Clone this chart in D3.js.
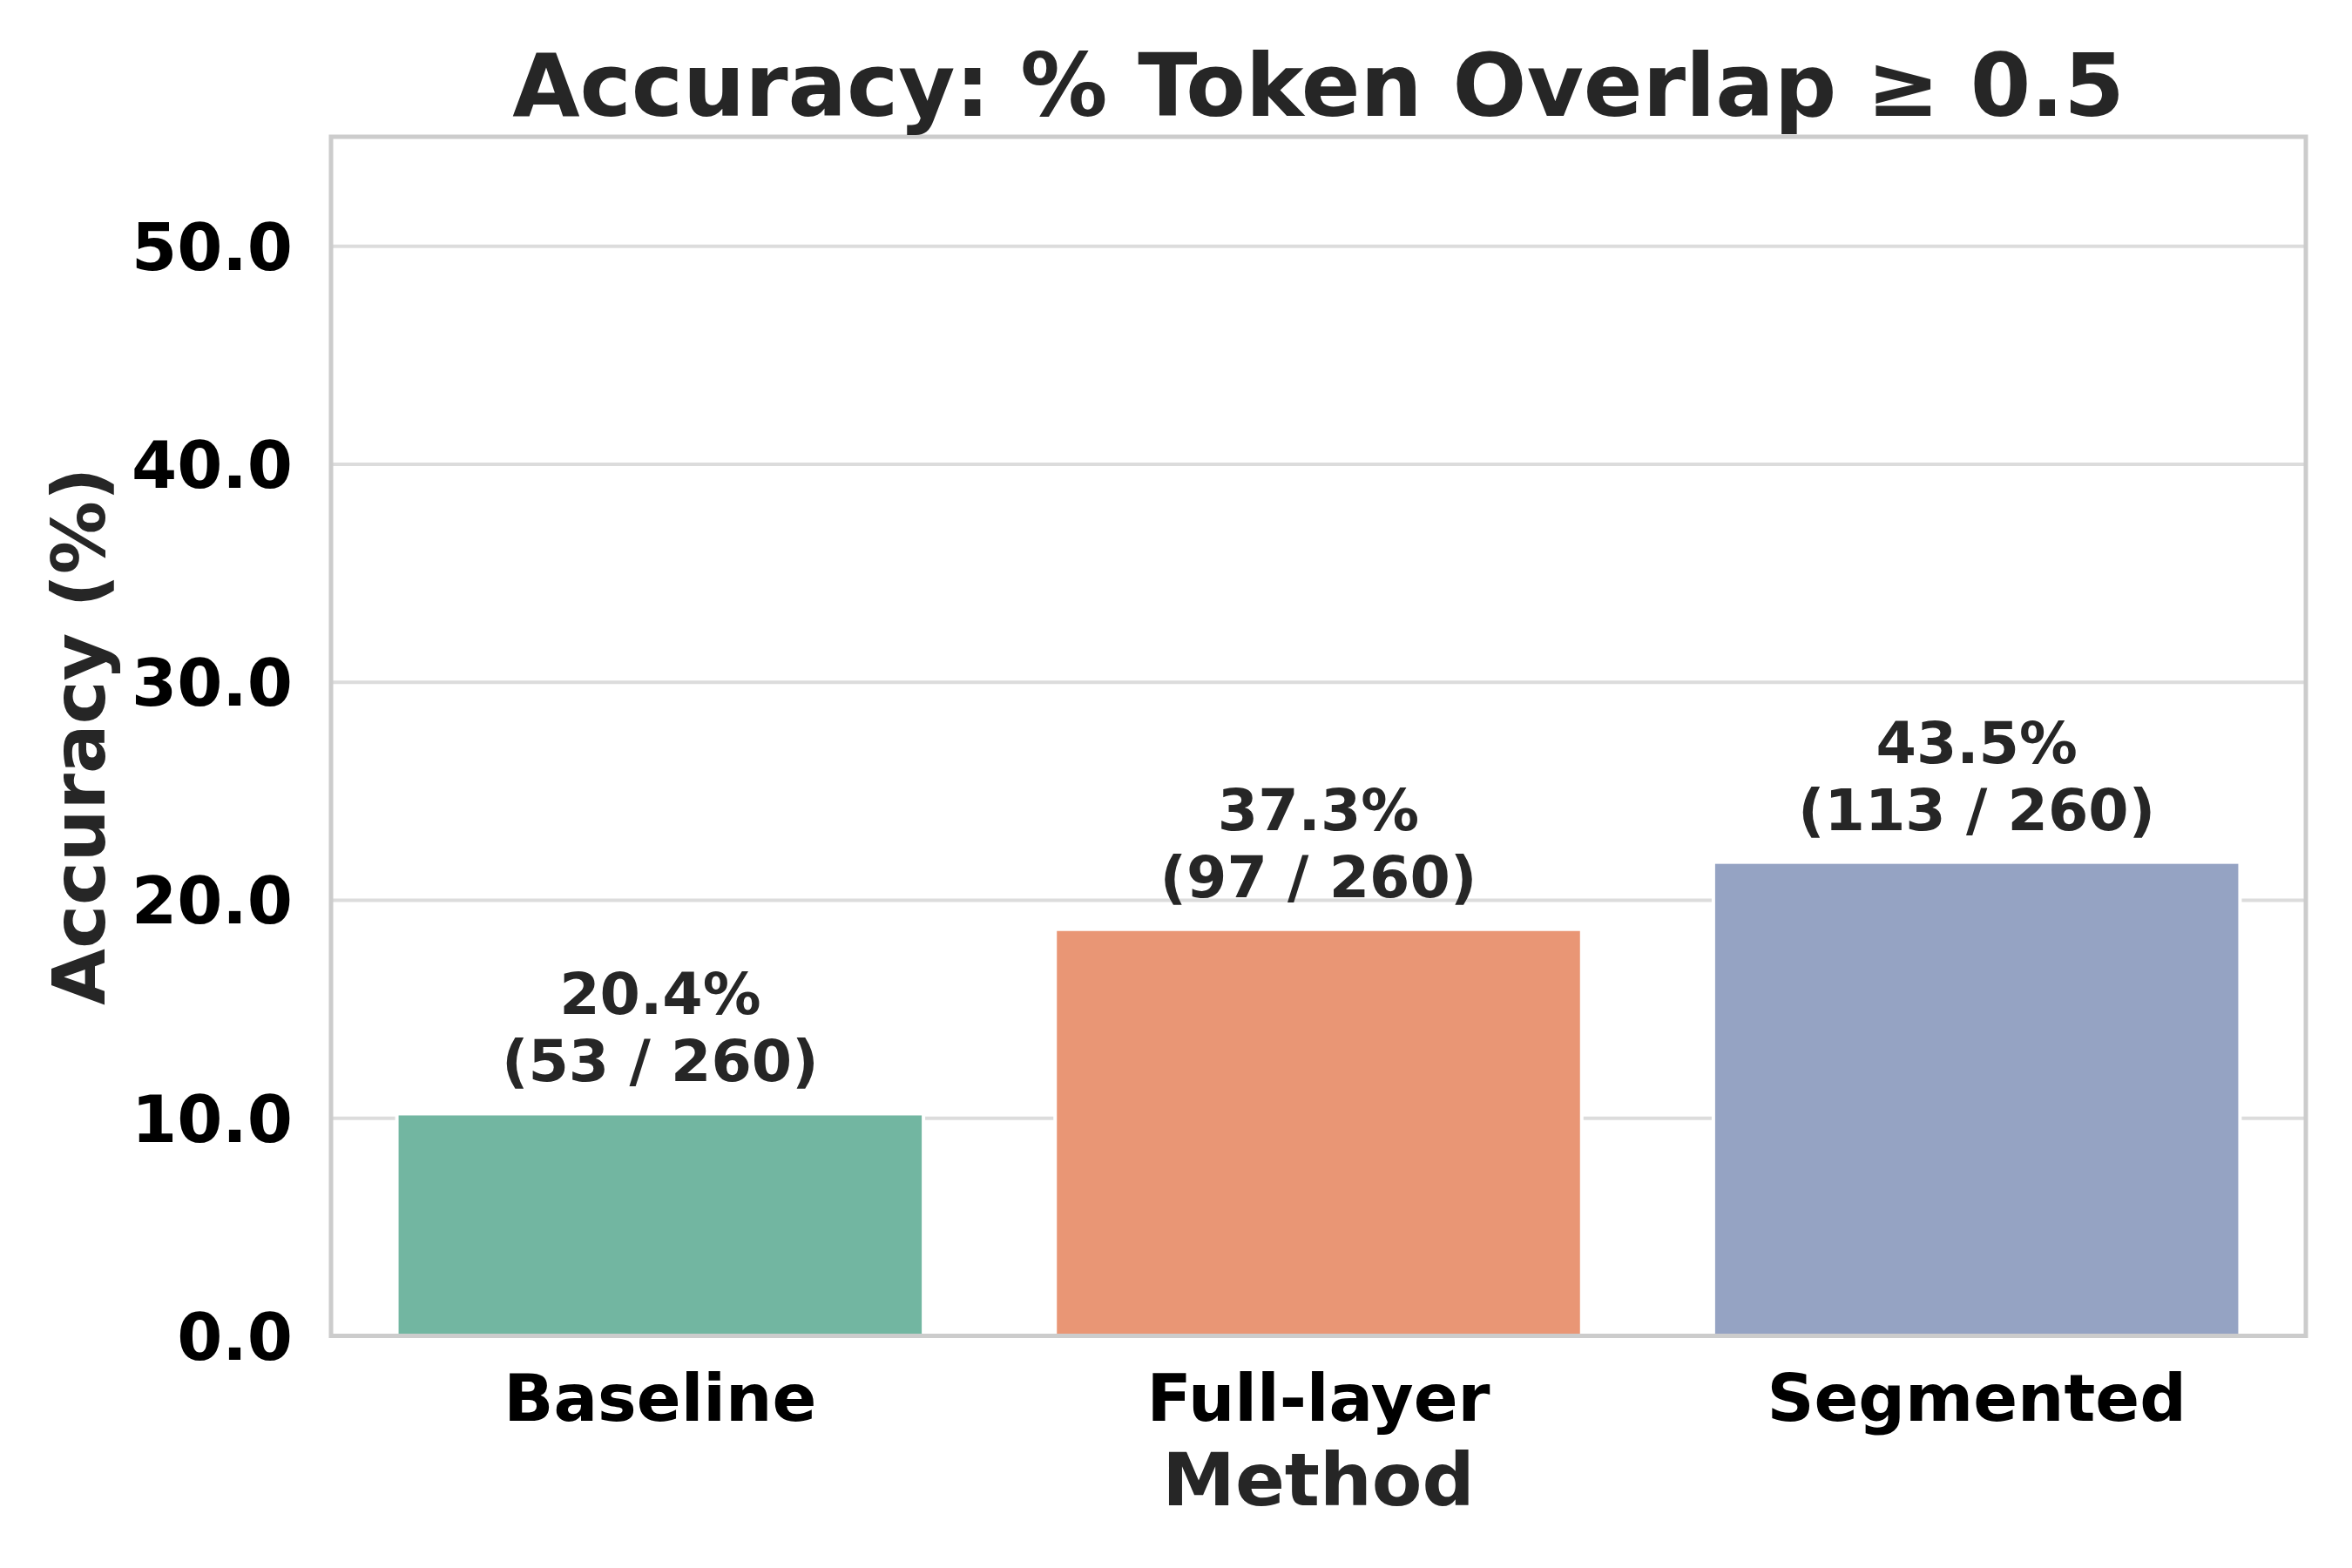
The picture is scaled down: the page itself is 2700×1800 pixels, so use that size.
<!DOCTYPE html>
<html>
<head>
<meta charset="utf-8">
<script src="https://cdn.jsdelivr.net/npm/d3@7"></script>
<style>
  html, body { margin: 0; padding: 0; background: #ffffff; }
  svg text { font-family: "DejaVu Sans", sans-serif; font-weight: bold; }
</style>
</head>
<body>
<script>
// ---- data ----
const categories = ["Baseline", "Full-layer", "Segmented"];
const barValues = [10.19, 18.65, 21.73];
const pctLabels = ["20.4%", "37.3%", "43.5%"];
const countLabels = ["(53 / 260)", "(97 / 260)", "(113 / 260)"];
const barColors = ["#72b6a1", "#e99675", "#95a3c3"];
const yTicks = [0, 10, 20, 30, 40, 50];
const titleText = "Accuracy: % Token Overlap \u2265 0.5";
const xLabelText = "Method";
const yLabelText = "Accuracy (%)";

// ---- layout ----
const W = 2700, H = 1800;
const plotLeft = 380, plotRight = 2647, plotTop = 157, plotBottom = 1533.5;

const svg = d3.select("body").append("svg")
  .attr("width", W).attr("height", H)
  .attr("viewBox", `0 0 ${W} ${H}`);

svg.append("rect").attr("width", W).attr("height", H).attr("fill", "#ffffff");

const x = d3.scaleBand().domain(categories).range([plotLeft, plotRight])
  .paddingInner(0.2).paddingOuter(0.1);
const y = d3.scaleLinear().domain([0, 55]).range([plotBottom, plotTop]);

// grid
const gridG = svg.append("g")
  .attr("transform", `translate(${plotLeft},0)`)
  .call(d3.axisLeft(y).tickValues(yTicks).tickSize(-(plotRight - plotLeft)).tickFormat(""));
gridG.select(".domain").remove();
gridG.selectAll(".tick line").attr("stroke", "#dcdcdc").attr("stroke-width", 4);

// bars
svg.append("g").selectAll("rect")
  .data(categories)
  .join("rect")
  .attr("x", d => x(d))
  .attr("width", x.bandwidth())
  .attr("y", (d, i) => y(barValues[i]))
  .attr("height", (d, i) => y(0) - y(barValues[i]))
  .attr("fill", (d, i) => barColors[i])
  .attr("stroke", "#ffffff")
  .attr("stroke-width", 4);

// spines
svg.append("rect")
  .attr("x", plotLeft).attr("y", plotTop)
  .attr("width", plotRight - plotLeft).attr("height", plotBottom - plotTop)
  .attr("fill", "none").attr("stroke", "#cccccc").attr("stroke-width", 5);

// y axis tick labels
const yAxis = svg.append("g")
  .attr("transform", `translate(${plotLeft},0)`)
  .call(d3.axisLeft(y).tickValues(yTicks).tickSize(0).tickPadding(44).tickFormat(d3.format(".1f")));
yAxis.select(".domain").remove();
yAxis.selectAll(".tick text")
  .attr("font-size", 75).attr("fill", "#000000")
  .attr("font-family", "DejaVu Sans").attr("font-weight", "bold")
  .attr("dy", "0.36em");

// x axis tick labels
const xAxis = svg.append("g")
  .attr("transform", `translate(0,${plotBottom})`)
  .call(d3.axisBottom(x).tickSize(0).tickPadding(0));
xAxis.select(".domain").remove();
xAxis.selectAll(".tick text")
  .attr("font-size", 75).attr("fill", "#000000")
  .attr("font-family", "DejaVu Sans").attr("font-weight", "bold")
  .attr("y", 97.5).attr("dy", 0);

// annotations
const ann = svg.append("g");
ann.selectAll("text.pct")
  .data(categories).join("text")
  .attr("class", "pct")
  .attr("x", d => x(d) + x.bandwidth() / 2)
  .attr("y", (d, i) => y(barValues[i]) - 114)
  .attr("text-anchor", "middle")
  .attr("font-size", 66.7).attr("fill", "#262626")
  .text((d, i) => pctLabels[i]);
ann.selectAll("text.cnt")
  .data(categories).join("text")
  .attr("class", "cnt")
  .attr("x", d => x(d) + x.bandwidth() / 2)
  .attr("y", (d, i) => y(barValues[i]) - 37)
  .attr("text-anchor", "middle")
  .attr("font-size", 66.7).attr("fill", "#262626")
  .text((d, i) => countLabels[i]);

// title
svg.append("text")
  .attr("x", (plotLeft + plotRight) / 2).attr("y", 132.7)
  .attr("text-anchor", "middle")
  .attr("font-size", 100).attr("fill", "#262626")
  .text(titleText);

// x label
svg.append("text")
  .attr("x", (plotLeft + plotRight) / 2).attr("y", 1728)
  .attr("text-anchor", "middle")
  .attr("font-size", 84).attr("fill", "#262626")
  .text(xLabelText);

// y label
svg.append("text")
  .attr("transform", `translate(120,${(plotTop + plotBottom) / 2}) rotate(-90)`)
  .attr("text-anchor", "middle")
  .attr("font-size", 84).attr("fill", "#262626")
  .text(yLabelText);
</script>
</body>
</html>
